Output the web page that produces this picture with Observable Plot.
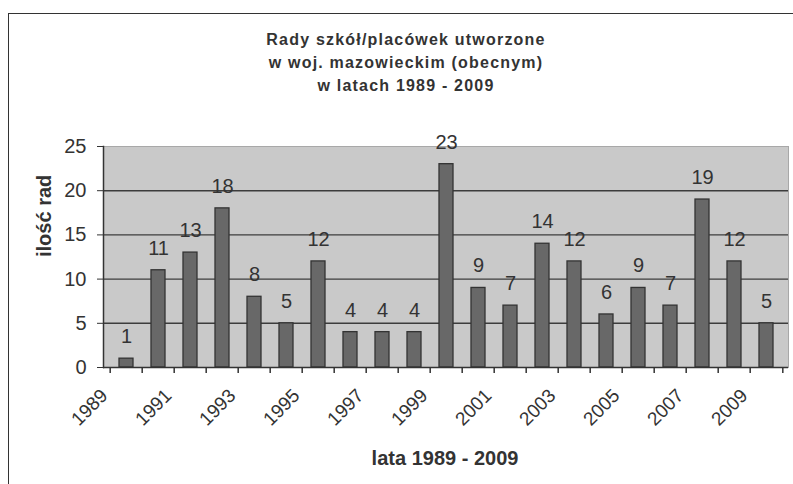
<!DOCTYPE html>
<html><head><meta charset="utf-8">
<script src="https://cdn.jsdelivr.net/npm/d3@7"></script>
<script src="https://cdn.jsdelivr.net/npm/@observablehq/plot@0.6"></script>
<style>
html,body{margin:0;padding:0;background:#fff;}
#wrap{position:relative;width:793px;height:484px;overflow:hidden;}
#border{position:absolute;left:8px;top:13px;right:-10px;bottom:-10px;border-left:1.5px solid #333;border-top:1.5px solid #333;}
#chart{position:absolute;left:0;top:0;}
</style></head><body>
<div id="wrap"><div id="border"></div><div id="chart"></div></div>
<script>
// ---- data ----
const years = [1989,1990,1991,1992,1993,1994,1995,1996,1997,1998,1999,2000,2001,2002,2003,2004,2005,2006,2007,2008,2009];
const counts = [1,11,13,18,8,5,12,4,4,4,23,9,7,14,12,6,9,7,19,12,5];
const labeledYears = [1989,1991,1993,1995,1997,1999,2001,2003,2005,2007,2009];
const yTicks = [0,5,10,15,20,25];
const gridValues = [5,10,15,20];
const titleLines = ["Rady szkół/placówek utworzone","w woj. mazowieckim (obecnym)","w latach 1989 - 2009"];
const xTitle = "lata 1989 - 2009";
const yTitle = "ilość rad";

// ---- layout ----
const W = 793, H = 484, mL = 103, mR = 5, mT = 146, mB = 117;
const step = (W - mL - mR) / years.length;
const data = years.map((year, i) => ({year, count: counts[i]}));
const ink = "#333";

const chart = Plot.plot({
  width: W, height: H,
  marginLeft: mL, marginRight: mR, marginTop: mT, marginBottom: mB,
  style: {fontFamily: "'Liberation Sans', Arial, sans-serif", color: ink, background: "transparent", overflow: "visible"},
  x: {type: "band", domain: years, padding: 0, label: null},
  y: {domain: [0, 25], label: null},
  marks: [
    Plot.frame({fill: "#c9c9c9", stroke: "#a8a8a8"}),
    Plot.ruleY(gridValues, {stroke: "#3c3c3c", strokeWidth: 1.4}),
    Plot.rectY(data, {x: "year", y: "count", fill: "#686868", stroke: "#333", strokeWidth: 1.3, insetLeft: 9, insetRight: 9}),
    Plot.ruleY([0], {stroke: ink, strokeWidth: 1.5}),
    Plot.frame({anchor: "left", stroke: ink, strokeWidth: 1.5}),
    Plot.ruleX(years, {x: d => d, y1: 0, y2: 0, insetBottom: -6, dx: -step / 2, stroke: ink, strokeWidth: 1.5}),
    Plot.ruleX(years.slice(-1), {x: d => d, y1: 0, y2: 0, insetBottom: -6, dx: step / 2, stroke: ink, strokeWidth: 1.5}),
    Plot.axisY({ticks: yTicks, tickSize: 6, tickPadding: 11, fontSize: 20, color: ink, label: null}),
    Plot.axisX({ticks: labeledYears, tickFormat: d => String(d), tickSize: 0, tickRotate: -45, tickPadding: 6, dx: -22, dy: 19, fontSize: 19, color: ink, label: null}),
    Plot.text(data, {x: "year", y: "count", text: d => String(d.count), dy: -22, fontSize: 20, fill: ink}),
    Plot.text([yTitle], {frameAnchor: "left", dx: -59, rotate: -90, fontWeight: "bold", fontSize: 20, fill: ink}),
    Plot.text([xTitle], {frameAnchor: "bottom", dy: 97, dx: -1, fontWeight: "bold", fontSize: 20, fill: ink}),
    Plot.text([titleLines.join("\n")], {frameAnchor: "top", lineAnchor: "top", dx: -40, dy: -118, lineHeight: 1.45, fontWeight: "bold", fontSize: 16, fill: ink})
  ]
});
for (const el of chart.querySelectorAll("text")) {
  if (el.textContent.includes(titleLines[0])) {
    el.style.letterSpacing = "1.2px";
    el.setAttribute("letter-spacing", "1.2");
  }
}
document.getElementById("chart").appendChild(chart);
</script>
</body></html>
